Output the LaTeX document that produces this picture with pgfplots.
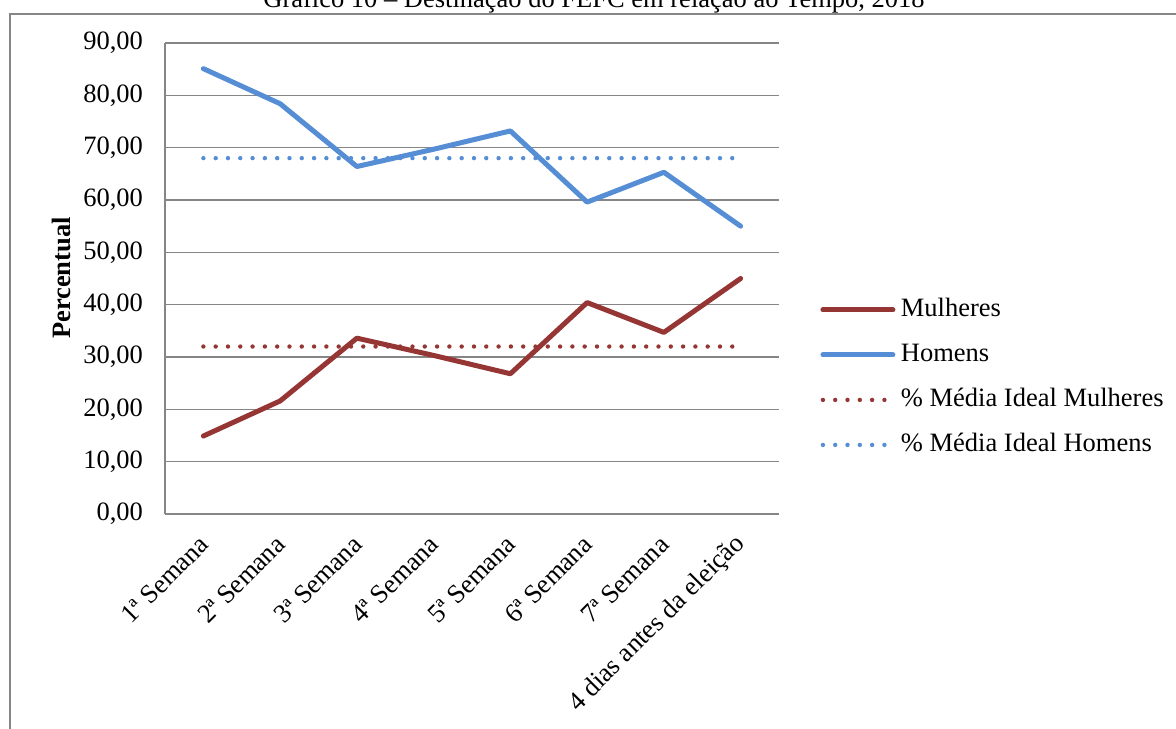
\documentclass[border=0pt]{standalone}
\usepackage{fontspec}
\setmainfont{Liberation Serif}
\usepackage{pgfplots}
\pgfplotsset{compat=1.18}

\definecolor{mulheres}{RGB}{150,54,52}
\definecolor{homens}{RGB}{85,142,213}
\definecolor{gridgray}{RGB}{134,134,134}

% Percentual semanal do FEFC por sexo
\pgfplotstableread{
x  homens mulheres idealH idealM
1  85.1   14.9     68     32
2  78.4   21.6     68     32
3  66.4   33.6     68     32
4  69.7   30.3     68     32
5  73.2   26.8     68     32
6  59.6   40.4     68     32
7  65.3   34.7     68     32
8  55.0   45.0     68     32
}\dados

\begin{document}
\begin{tikzpicture}[x=1pt,y=1pt]
\useasboundingbox (0,0) rectangle (588,364);
\clip (0,0) rectangle (588,364);
\draw[gridgray, line width=1pt] (5,357) rectangle (640,-40);
\node[anchor=base, font=\fontsize{13.25}{15}\selectfont, inner sep=0pt]
  at (297,360) {Gráfico 10 – Destinação do FEFC em relação ao Tempo, 2018};
\begin{axis}[
  at={(82.5pt,107pt)}, anchor=south west,
  scale only axis, width=307pt, height=235.5pt,
  xmin=0.5, xmax=8.5, ymin=0, ymax=90,
  xtick={1,...,8},
  xticklabels={1ª Semana,2ª Semana,3ª Semana,4ª Semana,5ª Semana,6ª Semana,7ª Semana,4 dias antes da eleição},
  ytick={0,10,...,90},
  font=\fontsize{13.25}{15}\selectfont,
  /pgf/number format/.cd, fixed, fixed zerofill, precision=2, use comma, assume math mode=true,
  /pgfplots/.cd,
  major tick length=0pt,
  ymajorgrids,
  grid style={gridgray, line width=0.75pt},
  axis x line*=bottom, axis y line*=left,
  axis line style={gridgray, line width=0.75pt, -},
  yticklabel style={xshift=-7.5pt},
  xticklabel style={xshift=2.7pt, yshift=-10.6pt, rotate=45, anchor=east},
  ylabel={\bfseries Percentual},
  ylabel style={at={(axis description cs:-0.1694,0.501)}, rotate=0, anchor=center},
  legend style={at={(axis description cs:1.0668,0.4607)}, anchor=north west,
    draw=none, fill=none, inner sep=0pt, row sep=10pt,
    nodes={inner sep=0pt, text height=9.5pt, text depth=3pt, anchor=west},
    /tikz/every odd column/.append style={column sep=0pt}},
  legend cell align=left,
  legend image code/.code={\draw[#1] (0pt,0pt) -- (35pt,0pt); \path (37.75pt,0pt);},
  clip=false,
]
\addplot[mulheres, line width=2.5pt, line join=round, line cap=round] table[x=x,y=mulheres]{\dados};
\addlegendentry{Mulheres}
\addplot[homens, line width=2.5pt, line join=round, line cap=round] table[x=x,y=homens]{\dados};
\addlegendentry{Homens}
\addplot[mulheres, line width=2.2pt, line cap=round, dash pattern=on 0pt off 6.15pt] table[x=x,y=idealM]{\dados};
\addlegendentry{\% Média Ideal Mulheres}
\addplot[homens, line width=2.2pt, line cap=round, dash pattern=on 0pt off 6.15pt] table[x=x,y=idealH]{\dados};
\addlegendentry{\% Média Ideal Homens}
\end{axis}
\end{tikzpicture}
\end{document}
